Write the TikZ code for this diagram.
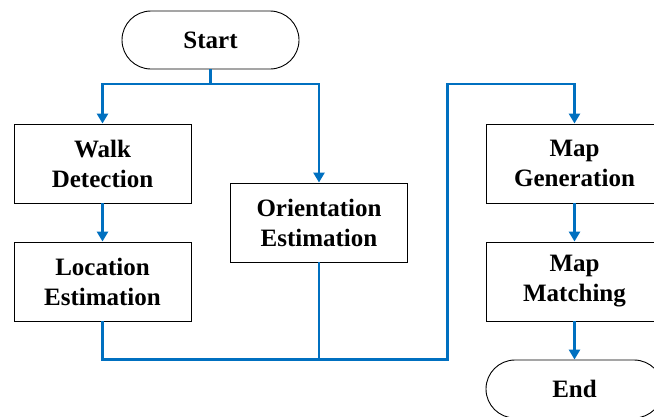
\documentclass[tikz,border=0pt]{standalone}
\usepackage{fontspec}
\setmainfont{Liberation Serif}
\usetikzlibrary{arrows.meta}
\definecolor{flowblue}{RGB}{0,112,192}
\begin{document}
\begin{tikzpicture}[x=1pt,y=-1pt,
  box/.style={draw=black,line width=0.9pt,minimum width=177pt,minimum height=79pt,
    inner sep=0pt,align=center,font=\fontsize{25}{30}\selectfont\bfseries},
  terminal/.style={box,minimum height=58pt,rounded corners=29pt},
  flow/.style={draw=flowblue,line width=2.8pt,-{Triangle[width=11pt,length=10pt]}},
  link/.style={draw=flowblue,line width=2.8pt}]
\clip (0,0) rectangle (654,416);
\useasboundingbox (0,0) rectangle (654,416);
\fill[white] (0,0) rectangle (654,416);

% process steps
\node[terminal] (start)  at (210.5,40)  {Start};
\node[box]      (walk)   at (102.5,163.5) {Walk\\Detection};
\node[box]      (loc)    at (102.5,281.5) {Location\\Estimation};
\node[box]      (orient) at (319,222.5) {Orientation\\Estimation};
\node[box]      (mapgen) at (574.5,163.5) {Map\\Generation};
\node[box]      (mapmat) at (574.5,281.5) {Map\\Matching};
\node[terminal] (end)    at (574.5,389) {End};

% junction points of the flow lines
\coordinate (split) at (210.5,84);
\coordinate (merge) at (447.5,359.5);
\coordinate (rise)  at (447.5,84);

% connectors
\draw[link] (start.south) -- (split);
\draw[flow] (split) -| (walk.north);
\draw[flow] (split) -| (orient.north);
\draw[flow] (walk.south) -- (loc.north);
\draw[link] (orient.south) -- (orient.south |- merge);
\draw[flow] (loc.south) |- (merge) -- (rise) -| (mapgen.north);
\draw[flow] (mapgen.south) -- (mapmat.north);
\draw[flow] (mapmat.south) -- (end.north);
\end{tikzpicture}
\end{document}
